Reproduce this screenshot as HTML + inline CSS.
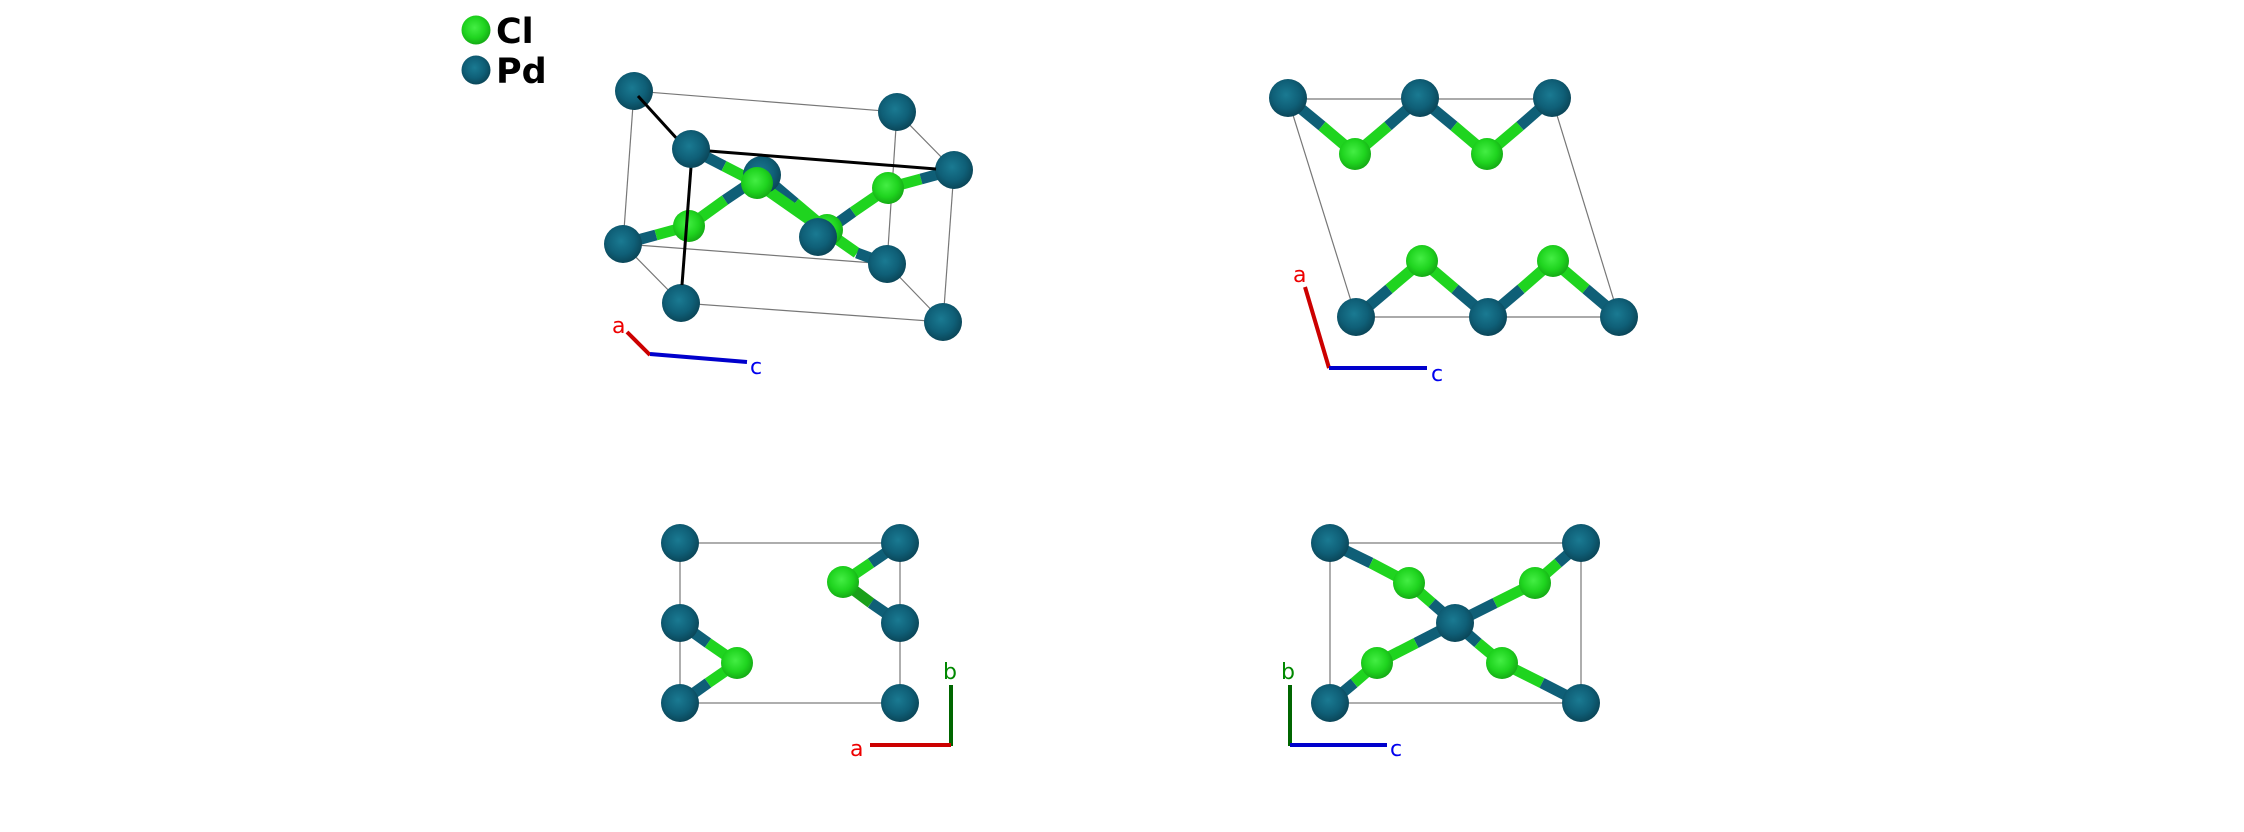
<!DOCTYPE html>
<html><head><meta charset="utf-8"><style>
html,body{margin:0;padding:0;background:#fff;}
svg{display:block;}
text{font-family:"DejaVu Sans","Liberation Sans",sans-serif;}
</style></head><body>
<svg width="2244" height="832" viewBox="0 0 2244 832" xmlns="http://www.w3.org/2000/svg">
<defs>
<radialGradient id="pd" cx="0.45" cy="0.42" r="0.6">
<stop offset="0" stop-color="#1a7a92"/><stop offset="0.6" stop-color="#0f5f77"/><stop offset="1" stop-color="#0a4456"/>
</radialGradient>
<radialGradient id="cl" cx="0.45" cy="0.42" r="0.6">
<stop offset="0" stop-color="#44ee44"/><stop offset="0.6" stop-color="#1fd41f"/><stop offset="1" stop-color="#14a814"/>
</radialGradient>
</defs>
<!-- legend -->
<circle cx="476" cy="30" r="14.5" fill="url(#cl)"/>
<text x="496" y="43" font-size="35" font-weight="bold" fill="#000">Cl</text>
<circle cx="476" cy="70" r="14.5" fill="url(#pd)"/>
<text x="496" y="83" font-size="35" font-weight="bold" fill="#000">Pd</text>

<!-- Panel 1 -->
<g stroke="#777" stroke-width="1.2" fill="none">
<line x1="634" y1="91" x2="897" y2="112"/>
<line x1="634" y1="91" x2="623" y2="244"/>
<line x1="897" y1="112" x2="954" y2="170"/>
<line x1="897" y1="112" x2="887" y2="264"/>
<line x1="954" y1="170" x2="943" y2="322"/>
<line x1="623" y1="244" x2="681" y2="303"/>
<line x1="623" y1="244" x2="887" y2="264"/>
<line x1="681" y1="303" x2="943" y2="322"/>
<line x1="887" y1="264" x2="943" y2="322"/>
</g>
<g stroke-width="11">
<line x1="762" y1="175" x2="795" y2="203" stroke="#0f5f77"/><line x1="795" y1="203" x2="827" y2="230" stroke="#1fd41f"/>
<line x1="623" y1="244" x2="656" y2="235" stroke="#0f5f77"/><line x1="656" y1="235" x2="689" y2="226" stroke="#1fd41f"/>
<line x1="689" y1="226" x2="725" y2="200" stroke="#1fd41f"/><line x1="725" y1="200" x2="762" y2="175" stroke="#0f5f77"/>
<line x1="691" y1="149" x2="724" y2="166" stroke="#0f5f77"/><line x1="724" y1="166" x2="757" y2="183" stroke="#1fd41f"/>
<line x1="757" y1="183" x2="857" y2="253" stroke="#1fd41f"/><line x1="857" y1="253" x2="887" y2="264" stroke="#0f5f77"/>
<line x1="818" y1="237" x2="853" y2="212" stroke="#0f5f77"/><line x1="853" y1="212" x2="888" y2="188" stroke="#1fd41f"/>
<line x1="888" y1="188" x2="921" y2="179" stroke="#1fd41f"/><line x1="921" y1="179" x2="954" y2="170" stroke="#0f5f77"/>
</g>
<circle cx="762" cy="175" r="19" fill="url(#pd)"/>
<circle cx="827" cy="230" r="16" fill="url(#cl)"/>
<circle cx="757" cy="183" r="16" fill="url(#cl)"/>
<circle cx="634" cy="91" r="19" fill="url(#pd)"/>
<circle cx="897" cy="112" r="19" fill="url(#pd)"/>
<circle cx="954" cy="170" r="19" fill="url(#pd)"/>
<circle cx="888" cy="188" r="16" fill="url(#cl)"/>
<circle cx="689" cy="226" r="16" fill="url(#cl)"/>
<circle cx="623" cy="244" r="19" fill="url(#pd)"/>
<circle cx="818" cy="237" r="19" fill="url(#pd)"/>
<circle cx="887" cy="264" r="19" fill="url(#pd)"/>
<circle cx="681" cy="303" r="19" fill="url(#pd)"/>
<circle cx="943" cy="322" r="19" fill="url(#pd)"/>
<g stroke="#000" stroke-width="3">
<line x1="638" y1="96" x2="679" y2="141"/>
<line x1="709" y1="151" x2="936" y2="169"/>
<line x1="691" y1="167" x2="682" y2="285"/>
</g>
<circle cx="691" cy="149" r="19" fill="url(#pd)"/>
<line x1="627" y1="332" x2="650" y2="355" stroke="#cc0000" stroke-width="4"/>
<line x1="650" y1="354" x2="747" y2="362" stroke="#0000cc" stroke-width="4"/>
<text x="612" y="333" font-size="22" fill="#e00">a</text>
<text x="750" y="374" font-size="22" fill="#00e">c</text>

<!-- Panel 2 -->
<g stroke="#777" stroke-width="1.2" fill="none">
<line x1="1288" y1="99" x2="1552" y2="99"/>
<line x1="1356" y1="317" x2="1619" y2="317"/>
<line x1="1288" y1="99" x2="1356" y2="317"/>
<line x1="1552" y1="99" x2="1619" y2="317"/>
</g>
<g stroke-width="11">
<line x1="1288" y1="98" x2="1322" y2="126" stroke="#0f5f77"/><line x1="1322" y1="126" x2="1355" y2="154" stroke="#1fd41f"/>
<line x1="1355" y1="154" x2="1388" y2="126" stroke="#1fd41f"/><line x1="1388" y1="126" x2="1420" y2="98" stroke="#0f5f77"/>
<line x1="1420" y1="98" x2="1454" y2="126" stroke="#0f5f77"/><line x1="1454" y1="126" x2="1487" y2="154" stroke="#1fd41f"/>
<line x1="1487" y1="154" x2="1520" y2="126" stroke="#1fd41f"/><line x1="1520" y1="126" x2="1552" y2="98" stroke="#0f5f77"/>
<line x1="1356" y1="317" x2="1389" y2="289" stroke="#0f5f77"/><line x1="1389" y1="289" x2="1422" y2="261" stroke="#1fd41f"/>
<line x1="1422" y1="261" x2="1455" y2="289" stroke="#1fd41f"/><line x1="1455" y1="289" x2="1488" y2="317" stroke="#0f5f77"/>
<line x1="1488" y1="317" x2="1521" y2="289" stroke="#0f5f77"/><line x1="1521" y1="289" x2="1553" y2="261" stroke="#1fd41f"/>
<line x1="1553" y1="261" x2="1586" y2="289" stroke="#1fd41f"/><line x1="1586" y1="289" x2="1619" y2="317" stroke="#0f5f77"/>
</g>
<circle cx="1288" cy="98" r="19" fill="url(#pd)"/>
<circle cx="1420" cy="98" r="19" fill="url(#pd)"/>
<circle cx="1552" cy="98" r="19" fill="url(#pd)"/>
<circle cx="1355" cy="154" r="16" fill="url(#cl)"/>
<circle cx="1487" cy="154" r="16" fill="url(#cl)"/>
<circle cx="1422" cy="261" r="16" fill="url(#cl)"/>
<circle cx="1553" cy="261" r="16" fill="url(#cl)"/>
<circle cx="1356" cy="317" r="19" fill="url(#pd)"/>
<circle cx="1488" cy="317" r="19" fill="url(#pd)"/>
<circle cx="1619" cy="317" r="19" fill="url(#pd)"/>
<line x1="1305" y1="287" x2="1329" y2="368" stroke="#cc0000" stroke-width="4"/>
<line x1="1329" y1="368" x2="1427" y2="368" stroke="#0000cc" stroke-width="4"/>
<text x="1293" y="282" font-size="22" fill="#e00">a</text>
<text x="1431" y="381" font-size="22" fill="#00e">c</text>

<!-- Panel 3 -->
<g stroke="#777" stroke-width="1.2" fill="none">
<rect x="680" y="543" width="220" height="160"/>
</g>
<g stroke-width="11">
<line x1="900" y1="543" x2="871" y2="563" stroke="#0f5f77"/><line x1="871" y1="563" x2="843" y2="582" stroke="#1fd41f"/>
<line x1="843" y1="582" x2="871" y2="603" stroke="#1aa01a"/><line x1="871" y1="603" x2="900" y2="623" stroke="#0f5f77"/>
<line x1="680" y1="623" x2="708" y2="643" stroke="#0f5f77"/><line x1="708" y1="643" x2="737" y2="663" stroke="#1fd41f"/>
<line x1="737" y1="663" x2="708" y2="683" stroke="#1fd41f"/><line x1="708" y1="683" x2="680" y2="703" stroke="#0f5f77"/>
</g>
<circle cx="680" cy="543" r="19" fill="url(#pd)"/>
<circle cx="900" cy="543" r="19" fill="url(#pd)"/>
<circle cx="680" cy="623" r="19" fill="url(#pd)"/>
<circle cx="900" cy="623" r="19" fill="url(#pd)"/>
<circle cx="680" cy="703" r="19" fill="url(#pd)"/>
<circle cx="900" cy="703" r="19" fill="url(#pd)"/>
<circle cx="843" cy="582" r="16" fill="url(#cl)"/>
<circle cx="737" cy="663" r="16" fill="url(#cl)"/>
<line x1="951" y1="685" x2="951" y2="746" stroke="#006600" stroke-width="4"/>
<line x1="870" y1="745" x2="951" y2="745" stroke="#cc0000" stroke-width="4"/>
<text x="943" y="679" font-size="22" fill="#008800">b</text>
<text x="850" y="756" font-size="22" fill="#e00">a</text>

<!-- Panel 4 -->
<g stroke="#777" stroke-width="1.2" fill="none">
<rect x="1330" y="543" width="251" height="160"/>
</g>
<g stroke-width="11">
<line x1="1330" y1="543" x2="1371" y2="563" stroke="#0f5f77"/><line x1="1371" y1="563" x2="1409" y2="583" stroke="#1fd41f"/>
<line x1="1409" y1="583" x2="1432" y2="603" stroke="#1fd41f"/><line x1="1432" y1="603" x2="1455" y2="623" stroke="#0f5f77"/>
<line x1="1581" y1="543" x2="1558" y2="563" stroke="#0f5f77"/><line x1="1558" y1="563" x2="1535" y2="583" stroke="#1fd41f"/>
<line x1="1535" y1="583" x2="1495" y2="603" stroke="#1fd41f"/><line x1="1495" y1="603" x2="1455" y2="623" stroke="#0f5f77"/>
<line x1="1455" y1="623" x2="1416" y2="643" stroke="#0f5f77"/><line x1="1416" y1="643" x2="1377" y2="663" stroke="#1fd41f"/>
<line x1="1377" y1="663" x2="1354" y2="683" stroke="#1fd41f"/><line x1="1354" y1="683" x2="1330" y2="703" stroke="#0f5f77"/>
<line x1="1455" y1="623" x2="1478" y2="643" stroke="#0f5f77"/><line x1="1478" y1="643" x2="1502" y2="663" stroke="#1fd41f"/>
<line x1="1502" y1="663" x2="1542" y2="683" stroke="#1fd41f"/><line x1="1542" y1="683" x2="1581" y2="703" stroke="#0f5f77"/>
</g>
<circle cx="1330" cy="543" r="19" fill="url(#pd)"/>
<circle cx="1581" cy="543" r="19" fill="url(#pd)"/>
<circle cx="1330" cy="703" r="19" fill="url(#pd)"/>
<circle cx="1581" cy="703" r="19" fill="url(#pd)"/>
<circle cx="1409" cy="583" r="16" fill="url(#cl)"/>
<circle cx="1535" cy="583" r="16" fill="url(#cl)"/>
<circle cx="1377" cy="663" r="16" fill="url(#cl)"/>
<circle cx="1502" cy="663" r="16" fill="url(#cl)"/>
<circle cx="1455" cy="623" r="19" fill="url(#pd)"/>
<line x1="1290" y1="685" x2="1290" y2="746" stroke="#006600" stroke-width="4"/>
<line x1="1290" y1="745" x2="1387" y2="745" stroke="#0000cc" stroke-width="4"/>
<text x="1281" y="679" font-size="22" fill="#008800">b</text>
<text x="1390" y="756" font-size="22" fill="#00e">c</text>
</svg>
</body></html>
